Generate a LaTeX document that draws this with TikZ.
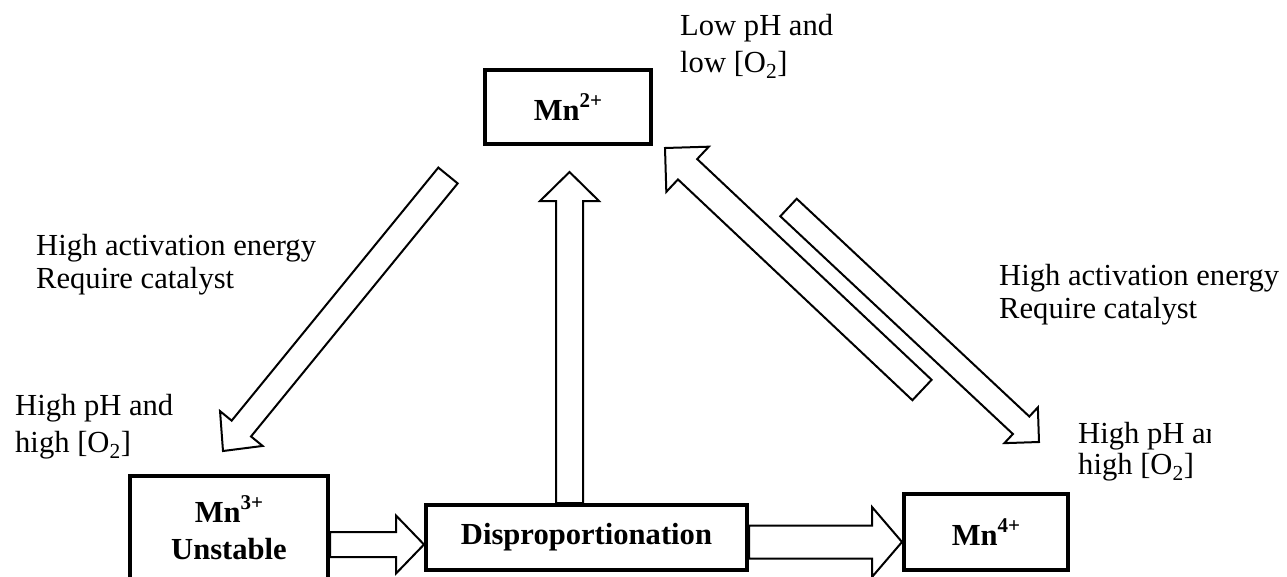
\documentclass[tikz,border=0pt]{standalone}
\usepackage{fontspec}
\setmainfont{Liberation Serif}
\usetikzlibrary{calc}
\tikzset{
  box/.style={draw, line width=4pt, inner sep=0pt, align=center, font=\fontsize{30.6}{37}\selectfont\bfseries},
  lbl/.style={anchor=north west, inner sep=0pt, align=left, font=\fontsize{30.6}{34}\selectfont},
  arrowline/.style={draw, line width=2pt, line join=miter},
}
% tail, tip, half shaft, half head, head length
\newcommand\fatarrow[5]{%
  \coordinate (fatC) at ($(#2)!#5!(#1)$);
  \draw[arrowline] ($(#1)!#3!90:(#2)$) -- ($(fatC)!#3!90:(#2)$) -- ($(fatC)!#4!90:(#2)$) -- (#2) -- ($(fatC)!#4!-90:(#2)$) -- ($(fatC)!#3!-90:(#2)$) -- ($(#1)!#3!-90:(#2)$) -- cycle;}
\newcommand\chg[1]{\raisebox{0.42em}{\fontsize{21}{21}\selectfont #1}}
\begin{document}
\begin{tikzpicture}[x=1pt, y=-1pt]
\useasboundingbox (0,0) rectangle (1287,576);
\node[box, minimum width=166pt, minimum height=74pt] (mntwo) at (568,107) {Mn\chg{2+}};
\node[box, minimum width=198pt, minimum height=104pt] (mnthree) at (229,528) {Mn\chg{3+}\\Unstable};
\node[box, minimum width=321pt, minimum height=65pt] (disp) at (586.5,537.5) {Disproportionation};
\node[box, minimum width=164pt, minimum height=76pt] (mnfour) at (986,532) {Mn\chg{4+}};
\node[lbl] (lowph) at (680,14) {Low pH and\\[3pt]low [O\textsubscript{2}]};
\node[lbl] (actleft) at (36,234) {High activation energy\\[-1pt]Require catalyst};
\node[lbl] (actright) at (999,264) {High activation energy\\[-1pt]Require catalyst};
\node[lbl] (phthree) at (15,394) {High pH and\\[3pt]high [O\textsubscript{2}]};
\begin{scope}
\clip (1060,400) rectangle (1210,500);
\node[lbl] (phfour) at (1078,422) {High pH and\\[-3pt]high [O\textsubscript{2}]};
\end{scope}
% arrow ends
\coordinate (a1s) at ($(mntwo.south west)+(-35,29.5)$);
\coordinate (a1e) at ($(mnthree.north)+(-6,-23)$);
\coordinate (a2s) at ($(disp.north)+(-17,0)$);
\coordinate (a2e) at ($(mntwo.south)+(1.5,26)$);
\coordinate (a3s) at ($(mnfour.north west)+(20,-102)$);
\coordinate (a3e) at ($(mntwo.south east)+(12,2)$);
\coordinate (a4s) at ($(mntwo.south east)+(135.5,61.5)$);
\coordinate (a4e) at ($(mnfour.north)+(53,-50)$);
\coordinate (a5s) at ($(mnthree.east)+(0,16.5)$);
\coordinate (a5e) at ($(disp.west)+(0,7)$);
\coordinate (a6s) at ($(disp.east)+(0,4.5)$);
\coordinate (a6e) at ($(mnfour.west)+(0,10)$);
\fatarrow{a1s}{a1e}{12.5pt}{27.5pt}{29pt}
\fatarrow{a2s}{a2e}{13.5pt}{29.5pt}{29pt}
\fatarrow{a3s}{a3e}{14pt}{31pt}{31pt}
\fatarrow{a4s}{a4e}{12pt}{24.5pt}{24.5pt}
\fatarrow{a5s}{a5e}{12.5pt}{29pt}{28pt}
\fatarrow{a6s}{a6e}{16.5pt}{35pt}{30pt}
\end{tikzpicture}
\end{document}
